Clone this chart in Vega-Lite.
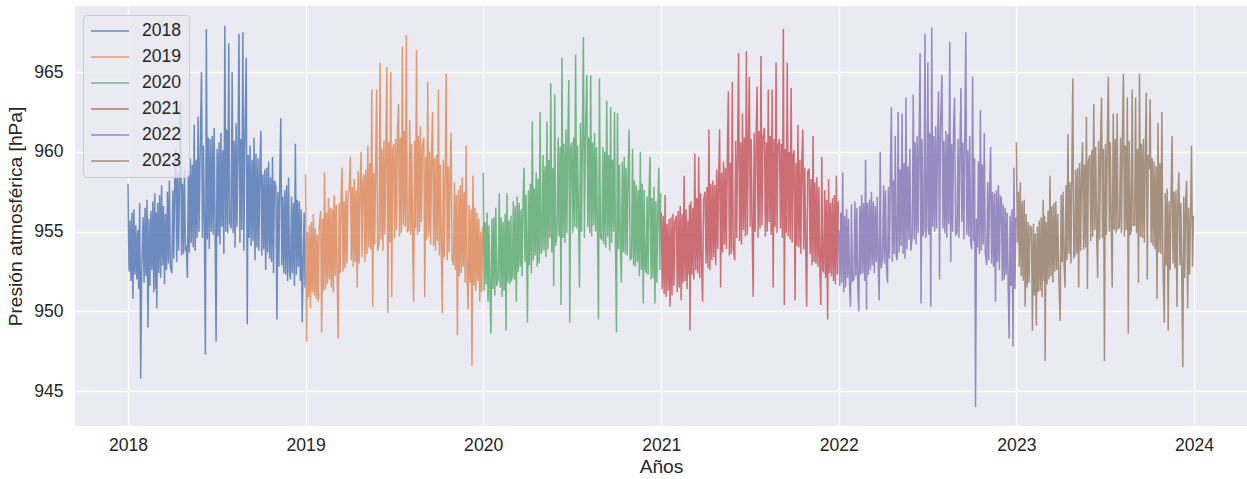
{
"$schema": "https://vega.github.io/schema/vega-lite/v6.json",
"width": 1172, "height": 420,
"autosize": {"type": "none"},
"padding": {"left": 75, "top": 6, "right": 0, "bottom": 53},
"background": "white",
"config": {
 "view": {"fill": "#EAEAF2", "stroke": null},
 "font": "Liberation Sans",
 "axis": {"domain": false, "ticks": false, "grid": true, "gridColor": "white", "gridWidth": 1.3, "labelFont": "Liberation Sans", "labelFontSize": 17.6, "labelColor": "#262626", "titleFont": "Liberation Sans", "titleFontSize": 19.2, "titleFontWeight": "normal", "titleColor": "#262626"}
},
"data": {"values": [
{"d":"2018-01-01","p":958.0},{"d":"2018-01-03","p":952.5},{"d":"2018-01-05","p":955.7},{"d":"2018-01-07","p":951.9},{"d":"2018-01-09","p":956.2},{"d":"2018-01-11","p":950.8},{"d":"2018-01-13","p":956.4},{"d":"2018-01-15","p":952.3},{"d":"2018-01-17","p":955.4},{"d":"2018-01-19","p":952.0},{"d":"2018-01-21","p":955.1},{"d":"2018-01-23","p":951.4},{"d":"2018-01-25","p":956.8},{"d":"2018-01-27","p":945.8},{"d":"2018-01-29","p":952.6},
{"d":"2018-02-01","p":955.9},{"d":"2018-02-03","p":951.8},{"d":"2018-02-05","p":956.5},{"d":"2018-02-07","p":952.2},{"d":"2018-02-09","p":957.0},{"d":"2018-02-11","p":949.0},{"d":"2018-02-13","p":955.8},{"d":"2018-02-15","p":951.6},{"d":"2018-02-17","p":956.3},{"d":"2018-02-19","p":952.6},{"d":"2018-02-21","p":956.9},{"d":"2018-02-23","p":951.2},{"d":"2018-02-25","p":957.4},{"d":"2018-02-27","p":951.4},{"d":"2018-02-28","p":956.2},
{"d":"2018-03-01","p":950.2},{"d":"2018-03-03","p":956.8},{"d":"2018-03-05","p":952.4},{"d":"2018-03-07","p":957.3},{"d":"2018-03-09","p":952.1},{"d":"2018-03-11","p":957.9},{"d":"2018-03-13","p":952.9},{"d":"2018-03-15","p":956.6},{"d":"2018-03-17","p":951.7},{"d":"2018-03-19","p":956.1},{"d":"2018-03-21","p":952.6},{"d":"2018-03-23","p":957.5},{"d":"2018-03-25","p":953.0},{"d":"2018-03-27","p":958.2},{"d":"2018-03-29","p":952.8},
{"d":"2018-04-01","p":952.4},{"d":"2018-04-03","p":957.6},{"d":"2018-04-05","p":953.3},{"d":"2018-04-07","p":958.1},{"d":"2018-04-09","p":960.2},{"d":"2018-04-11","p":953.1},{"d":"2018-04-13","p":958.7},{"d":"2018-04-15","p":953.8},{"d":"2018-04-17","p":958.4},{"d":"2018-04-19","p":963.2},{"d":"2018-04-21","p":953.5},{"d":"2018-04-23","p":958.0},{"d":"2018-04-25","p":953.6},{"d":"2018-04-27","p":958.9},{"d":"2018-04-29","p":953.9},
{"d":"2018-05-01","p":954.0},{"d":"2018-05-03","p":952.1},{"d":"2018-05-05","p":958.8},{"d":"2018-05-07","p":953.7},{"d":"2018-05-09","p":959.6},{"d":"2018-05-11","p":954.3},{"d":"2018-05-13","p":959.2},{"d":"2018-05-15","p":954.0},{"d":"2018-05-17","p":961.7},{"d":"2018-05-19","p":953.8},{"d":"2018-05-21","p":959.5},{"d":"2018-05-23","p":954.6},{"d":"2018-05-25","p":962.2},{"d":"2018-05-27","p":955.0},{"d":"2018-05-29","p":959.4},
{"d":"2018-06-01","p":965.0},{"d":"2018-06-03","p":954.6},{"d":"2018-06-05","p":960.4},{"d":"2018-06-07","p":955.2},{"d":"2018-06-09","p":947.3},{"d":"2018-06-11","p":967.7},{"d":"2018-06-13","p":954.5},{"d":"2018-06-15","p":960.9},{"d":"2018-06-17","p":953.9},{"d":"2018-06-19","p":960.8},{"d":"2018-06-21","p":955.0},{"d":"2018-06-23","p":961.0},{"d":"2018-06-25","p":954.8},{"d":"2018-06-27","p":961.5},{"d":"2018-06-29","p":954.9},
{"d":"2018-07-01","p":948.1},{"d":"2018-07-03","p":960.2},{"d":"2018-07-05","p":954.7},{"d":"2018-07-07","p":960.6},{"d":"2018-07-09","p":954.2},{"d":"2018-07-11","p":961.2},{"d":"2018-07-13","p":955.3},{"d":"2018-07-15","p":960.1},{"d":"2018-07-17","p":953.6},{"d":"2018-07-19","p":967.9},{"d":"2018-07-21","p":955.0},{"d":"2018-07-23","p":961.4},{"d":"2018-07-25","p":954.9},{"d":"2018-07-27","p":966.8},{"d":"2018-07-29","p":955.6},
{"d":"2018-08-01","p":955.2},{"d":"2018-08-03","p":965.0},{"d":"2018-08-05","p":954.9},{"d":"2018-08-07","p":960.7},{"d":"2018-08-09","p":954.0},{"d":"2018-08-11","p":961.8},{"d":"2018-08-13","p":955.3},{"d":"2018-08-15","p":960.2},{"d":"2018-08-17","p":967.4},{"d":"2018-08-19","p":954.3},{"d":"2018-08-21","p":960.8},{"d":"2018-08-23","p":955.1},{"d":"2018-08-25","p":967.5},{"d":"2018-08-27","p":953.8},{"d":"2018-08-29","p":960.5},
{"d":"2018-09-01","p":965.9},{"d":"2018-09-03","p":949.2},{"d":"2018-09-05","p":959.8},{"d":"2018-09-07","p":954.6},{"d":"2018-09-09","p":960.4},{"d":"2018-09-11","p":954.1},{"d":"2018-09-13","p":959.5},{"d":"2018-09-15","p":954.4},{"d":"2018-09-17","p":960.9},{"d":"2018-09-19","p":953.2},{"d":"2018-09-21","p":959.9},{"d":"2018-09-23","p":954.0},{"d":"2018-09-25","p":959.6},{"d":"2018-09-27","p":953.8},{"d":"2018-09-29","p":959.1},
{"d":"2018-10-01","p":961.3},{"d":"2018-10-03","p":953.5},{"d":"2018-10-05","p":958.6},{"d":"2018-10-07","p":953.9},{"d":"2018-10-09","p":958.9},{"d":"2018-10-11","p":952.6},{"d":"2018-10-13","p":959.0},{"d":"2018-10-15","p":953.7},{"d":"2018-10-17","p":959.4},{"d":"2018-10-19","p":953.3},{"d":"2018-10-21","p":958.4},{"d":"2018-10-23","p":953.1},{"d":"2018-10-25","p":959.7},{"d":"2018-10-27","p":952.4},{"d":"2018-10-29","p":958.2},
{"d":"2018-11-01","p":957.8},{"d":"2018-11-03","p":949.5},{"d":"2018-11-05","p":957.5},{"d":"2018-11-07","p":952.8},{"d":"2018-11-09","p":958.3},{"d":"2018-11-11","p":962.1},{"d":"2018-11-13","p":952.9},{"d":"2018-11-15","p":957.2},{"d":"2018-11-17","p":952.4},{"d":"2018-11-19","p":957.6},{"d":"2018-11-21","p":952.3},{"d":"2018-11-23","p":957.9},{"d":"2018-11-25","p":951.9},{"d":"2018-11-27","p":958.4},{"d":"2018-11-29","p":952.5},
{"d":"2018-12-01","p":952.0},{"d":"2018-12-03","p":957.2},{"d":"2018-12-05","p":952.4},{"d":"2018-12-07","p":956.8},{"d":"2018-12-09","p":951.6},{"d":"2018-12-11","p":960.5},{"d":"2018-12-13","p":952.3},{"d":"2018-12-15","p":957.0},{"d":"2018-12-17","p":952.8},{"d":"2018-12-19","p":956.9},{"d":"2018-12-21","p":951.9},{"d":"2018-12-23","p":956.4},{"d":"2018-12-25","p":949.3},{"d":"2018-12-27","p":953.1},{"d":"2018-12-29","p":956.2},{"d":"2018-12-31","p":951.5},
{"d":"2019-01-01","p":958.6},{"d":"2019-01-03","p":948.1},{"d":"2019-01-05","p":955.0},{"d":"2019-01-07","p":950.9},{"d":"2019-01-09","p":955.4},{"d":"2019-01-11","p":950.2},{"d":"2019-01-13","p":955.6},{"d":"2019-01-15","p":951.2},{"d":"2019-01-17","p":956.1},{"d":"2019-01-19","p":951.0},{"d":"2019-01-21","p":955.2},{"d":"2019-01-23","p":950.8},{"d":"2019-01-25","p":954.8},{"d":"2019-01-27","p":950.6},{"d":"2019-01-29","p":955.3},
{"d":"2019-02-01","p":956.3},{"d":"2019-02-03","p":948.7},{"d":"2019-02-05","p":955.8},{"d":"2019-02-07","p":951.3},{"d":"2019-02-09","p":958.7},{"d":"2019-02-11","p":951.4},{"d":"2019-02-13","p":956.2},{"d":"2019-02-15","p":951.7},{"d":"2019-02-17","p":957.1},{"d":"2019-02-19","p":952.0},{"d":"2019-02-21","p":956.5},{"d":"2019-02-23","p":951.5},{"d":"2019-02-25","p":956.4},{"d":"2019-02-27","p":951.2},{"d":"2019-02-28","p":956.0},
{"d":"2019-03-01","p":957.3},{"d":"2019-03-03","p":952.2},{"d":"2019-03-05","p":956.7},{"d":"2019-03-07","p":951.9},{"d":"2019-03-09","p":948.3},{"d":"2019-03-11","p":956.8},{"d":"2019-03-13","p":952.4},{"d":"2019-03-15","p":957.1},{"d":"2019-03-17","p":959.0},{"d":"2019-03-19","p":952.5},{"d":"2019-03-21","p":956.9},{"d":"2019-03-23","p":952.7},{"d":"2019-03-25","p":957.6},{"d":"2019-03-27","p":953.0},{"d":"2019-03-29","p":957.2},
{"d":"2019-04-01","p":957.9},{"d":"2019-04-03","p":959.7},{"d":"2019-04-05","p":953.2},{"d":"2019-04-07","p":957.8},{"d":"2019-04-09","p":952.8},{"d":"2019-04-11","p":958.3},{"d":"2019-04-13","p":953.1},{"d":"2019-04-15","p":957.6},{"d":"2019-04-17","p":951.5},{"d":"2019-04-19","p":958.8},{"d":"2019-04-21","p":953.0},{"d":"2019-04-23","p":957.9},{"d":"2019-04-25","p":960.0},{"d":"2019-04-27","p":953.4},{"d":"2019-04-29","p":958.2},
{"d":"2019-05-01","p":958.6},{"d":"2019-05-03","p":953.1},{"d":"2019-05-05","p":958.9},{"d":"2019-05-07","p":953.6},{"d":"2019-05-09","p":960.4},{"d":"2019-05-11","p":954.0},{"d":"2019-05-13","p":959.3},{"d":"2019-05-15","p":953.9},{"d":"2019-05-17","p":963.9},{"d":"2019-05-19","p":950.3},{"d":"2019-05-21","p":958.7},{"d":"2019-05-23","p":954.2},{"d":"2019-05-25","p":959.2},{"d":"2019-05-27","p":963.9},{"d":"2019-05-29","p":953.8},
{"d":"2019-06-01","p":954.2},{"d":"2019-06-03","p":965.6},{"d":"2019-06-05","p":954.5},{"d":"2019-06-07","p":960.2},{"d":"2019-06-09","p":953.8},{"d":"2019-06-11","p":960.7},{"d":"2019-06-13","p":954.8},{"d":"2019-06-15","p":960.4},{"d":"2019-06-17","p":965.3},{"d":"2019-06-19","p":949.9},{"d":"2019-06-21","p":960.6},{"d":"2019-06-23","p":954.3},{"d":"2019-06-25","p":965.0},{"d":"2019-06-27","p":950.9},{"d":"2019-06-29","p":960.1},
{"d":"2019-07-01","p":960.5},{"d":"2019-07-03","p":954.6},{"d":"2019-07-05","p":960.8},{"d":"2019-07-07","p":955.1},{"d":"2019-07-09","p":961.4},{"d":"2019-07-11","p":963.0},{"d":"2019-07-13","p":954.7},{"d":"2019-07-15","p":960.9},{"d":"2019-07-17","p":954.9},{"d":"2019-07-19","p":966.6},{"d":"2019-07-21","p":955.4},{"d":"2019-07-23","p":961.3},{"d":"2019-07-25","p":955.3},{"d":"2019-07-27","p":967.3},{"d":"2019-07-29","p":955.0},
{"d":"2019-08-01","p":955.1},{"d":"2019-08-03","p":962.0},{"d":"2019-08-05","p":954.8},{"d":"2019-08-07","p":960.5},{"d":"2019-08-09","p":954.4},{"d":"2019-08-11","p":950.6},{"d":"2019-08-13","p":960.7},{"d":"2019-08-15","p":955.2},{"d":"2019-08-17","p":966.4},{"d":"2019-08-19","p":954.8},{"d":"2019-08-21","p":961.0},{"d":"2019-08-23","p":955.0},{"d":"2019-08-25","p":961.6},{"d":"2019-08-27","p":955.6},{"d":"2019-08-29","p":960.3},
{"d":"2019-09-01","p":960.9},{"d":"2019-09-03","p":950.9},{"d":"2019-09-05","p":959.7},{"d":"2019-09-07","p":954.5},{"d":"2019-09-09","p":964.4},{"d":"2019-09-11","p":954.7},{"d":"2019-09-13","p":960.0},{"d":"2019-09-15","p":954.2},{"d":"2019-09-17","p":960.1},{"d":"2019-09-19","p":962.5},{"d":"2019-09-21","p":954.1},{"d":"2019-09-23","p":959.6},{"d":"2019-09-25","p":953.8},{"d":"2019-09-27","p":959.8},{"d":"2019-09-29","p":954.4},
{"d":"2019-10-01","p":963.9},{"d":"2019-10-03","p":953.5},{"d":"2019-10-05","p":959.2},{"d":"2019-10-07","p":953.8},{"d":"2019-10-09","p":949.9},{"d":"2019-10-11","p":959.5},{"d":"2019-10-13","p":953.4},{"d":"2019-10-15","p":958.9},{"d":"2019-10-17","p":964.9},{"d":"2019-10-19","p":953.2},{"d":"2019-10-21","p":959.1},{"d":"2019-10-23","p":953.7},{"d":"2019-10-25","p":958.6},{"d":"2019-10-27","p":961.2},{"d":"2019-10-29","p":953.3},
{"d":"2019-11-01","p":952.9},{"d":"2019-11-03","p":958.1},{"d":"2019-11-05","p":952.6},{"d":"2019-11-07","p":957.3},{"d":"2019-11-09","p":948.5},{"d":"2019-11-11","p":957.6},{"d":"2019-11-13","p":952.2},{"d":"2019-11-15","p":957.9},{"d":"2019-11-17","p":952.4},{"d":"2019-11-19","p":958.4},{"d":"2019-11-21","p":952.8},{"d":"2019-11-23","p":957.5},{"d":"2019-11-25","p":951.8},{"d":"2019-11-27","p":960.4},{"d":"2019-11-29","p":952.1},
{"d":"2019-12-01","p":950.1},{"d":"2019-12-03","p":956.7},{"d":"2019-12-05","p":951.8},{"d":"2019-12-07","p":956.4},{"d":"2019-12-09","p":946.6},{"d":"2019-12-11","p":958.5},{"d":"2019-12-13","p":951.6},{"d":"2019-12-15","p":956.5},{"d":"2019-12-17","p":951.3},{"d":"2019-12-19","p":956.2},{"d":"2019-12-21","p":951.9},{"d":"2019-12-23","p":955.8},{"d":"2019-12-25","p":950.6},{"d":"2019-12-27","p":955.0},{"d":"2019-12-29","p":951.2},{"d":"2019-12-31","p":955.3},
{"d":"2020-01-01","p":958.7},{"d":"2020-01-03","p":951.3},{"d":"2020-01-05","p":955.6},{"d":"2020-01-07","p":951.7},{"d":"2020-01-09","p":956.2},{"d":"2020-01-11","p":950.6},{"d":"2020-01-13","p":955.4},{"d":"2020-01-15","p":951.2},{"d":"2020-01-17","p":948.6},{"d":"2020-01-19","p":955.8},{"d":"2020-01-21","p":951.4},{"d":"2020-01-23","p":955.9},{"d":"2020-01-25","p":951.0},{"d":"2020-01-27","p":956.5},{"d":"2020-01-29","p":951.6},
{"d":"2020-02-01","p":952.1},{"d":"2020-02-03","p":957.4},{"d":"2020-02-05","p":951.5},{"d":"2020-02-07","p":955.9},{"d":"2020-02-09","p":950.9},{"d":"2020-02-11","p":955.6},{"d":"2020-02-13","p":951.3},{"d":"2020-02-15","p":956.1},{"d":"2020-02-17","p":948.8},{"d":"2020-02-19","p":957.4},{"d":"2020-02-21","p":951.8},{"d":"2020-02-23","p":955.7},{"d":"2020-02-25","p":951.7},{"d":"2020-02-27","p":956.0},{"d":"2020-02-28","p":951.9},
{"d":"2020-03-01","p":952.3},{"d":"2020-03-03","p":956.9},{"d":"2020-03-05","p":952.0},{"d":"2020-03-07","p":956.6},{"d":"2020-03-09","p":950.6},{"d":"2020-03-11","p":957.2},{"d":"2020-03-13","p":952.5},{"d":"2020-03-15","p":956.8},{"d":"2020-03-17","p":952.8},{"d":"2020-03-19","p":956.4},{"d":"2020-03-21","p":952.2},{"d":"2020-03-23","p":957.0},{"d":"2020-03-25","p":959.0},{"d":"2020-03-27","p":953.1},{"d":"2020-03-29","p":957.3},
{"d":"2020-04-01","p":949.3},{"d":"2020-04-03","p":957.6},{"d":"2020-04-05","p":952.9},{"d":"2020-04-07","p":958.0},{"d":"2020-04-09","p":952.4},{"d":"2020-04-11","p":961.9},{"d":"2020-04-13","p":953.2},{"d":"2020-04-15","p":957.7},{"d":"2020-04-17","p":953.5},{"d":"2020-04-19","p":958.7},{"d":"2020-04-21","p":952.8},{"d":"2020-04-23","p":958.3},{"d":"2020-04-25","p":953.0},{"d":"2020-04-27","p":962.5},{"d":"2020-04-29","p":953.6},
{"d":"2020-05-01","p":954.0},{"d":"2020-05-03","p":959.8},{"d":"2020-05-05","p":953.8},{"d":"2020-05-07","p":959.1},{"d":"2020-05-09","p":953.4},{"d":"2020-05-11","p":961.9},{"d":"2020-05-13","p":953.9},{"d":"2020-05-15","p":959.5},{"d":"2020-05-17","p":954.6},{"d":"2020-05-19","p":964.3},{"d":"2020-05-21","p":953.7},{"d":"2020-05-23","p":959.0},{"d":"2020-05-25","p":951.6},{"d":"2020-05-27","p":963.6},{"d":"2020-05-29","p":954.1},
{"d":"2020-06-01","p":955.0},{"d":"2020-06-03","p":960.9},{"d":"2020-06-05","p":954.7},{"d":"2020-06-07","p":960.3},{"d":"2020-06-09","p":950.4},{"d":"2020-06-11","p":965.9},{"d":"2020-06-13","p":954.6},{"d":"2020-06-15","p":960.5},{"d":"2020-06-17","p":954.3},{"d":"2020-06-19","p":961.4},{"d":"2020-06-21","p":954.9},{"d":"2020-06-23","p":960.8},{"d":"2020-06-25","p":964.5},{"d":"2020-06-27","p":949.3},{"d":"2020-06-29","p":960.2},
{"d":"2020-07-01","p":960.6},{"d":"2020-07-03","p":954.9},{"d":"2020-07-05","p":960.9},{"d":"2020-07-07","p":955.3},{"d":"2020-07-09","p":966.1},{"d":"2020-07-11","p":955.2},{"d":"2020-07-13","p":960.4},{"d":"2020-07-15","p":955.6},{"d":"2020-07-17","p":951.5},{"d":"2020-07-19","p":961.8},{"d":"2020-07-21","p":955.0},{"d":"2020-07-23","p":961.1},{"d":"2020-07-25","p":967.2},{"d":"2020-07-27","p":954.6},{"d":"2020-07-29","p":960.7},
{"d":"2020-08-01","p":964.8},{"d":"2020-08-03","p":955.3},{"d":"2020-08-05","p":960.9},{"d":"2020-08-07","p":954.9},{"d":"2020-08-09","p":964.8},{"d":"2020-08-11","p":954.7},{"d":"2020-08-13","p":960.6},{"d":"2020-08-15","p":955.4},{"d":"2020-08-17","p":961.2},{"d":"2020-08-19","p":955.0},{"d":"2020-08-21","p":960.3},{"d":"2020-08-23","p":954.8},{"d":"2020-08-25","p":949.5},{"d":"2020-08-27","p":964.6},{"d":"2020-08-29","p":954.6},
{"d":"2020-09-01","p":954.5},{"d":"2020-09-03","p":960.3},{"d":"2020-09-05","p":954.2},{"d":"2020-09-07","p":960.0},{"d":"2020-09-09","p":954.0},{"d":"2020-09-11","p":963.2},{"d":"2020-09-13","p":954.7},{"d":"2020-09-15","p":959.8},{"d":"2020-09-17","p":953.8},{"d":"2020-09-19","p":962.8},{"d":"2020-09-21","p":954.3},{"d":"2020-09-23","p":959.5},{"d":"2020-09-25","p":955.0},{"d":"2020-09-27","p":962.5},{"d":"2020-09-29","p":954.1},
{"d":"2020-10-01","p":948.7},{"d":"2020-10-03","p":962.4},{"d":"2020-10-05","p":953.9},{"d":"2020-10-07","p":959.2},{"d":"2020-10-09","p":954.2},{"d":"2020-10-11","p":951.8},{"d":"2020-10-13","p":959.4},{"d":"2020-10-15","p":953.7},{"d":"2020-10-17","p":959.7},{"d":"2020-10-19","p":953.6},{"d":"2020-10-21","p":959.0},{"d":"2020-10-23","p":953.5},{"d":"2020-10-25","p":958.9},{"d":"2020-10-27","p":961.4},{"d":"2020-10-29","p":953.2},
{"d":"2020-11-01","p":953.4},{"d":"2020-11-03","p":960.2},{"d":"2020-11-05","p":952.9},{"d":"2020-11-07","p":958.2},{"d":"2020-11-09","p":952.8},{"d":"2020-11-11","p":957.9},{"d":"2020-11-13","p":953.1},{"d":"2020-11-15","p":957.6},{"d":"2020-11-17","p":952.2},{"d":"2020-11-19","p":960.0},{"d":"2020-11-21","p":952.6},{"d":"2020-11-23","p":958.0},{"d":"2020-11-25","p":950.5},{"d":"2020-11-27","p":957.6},{"d":"2020-11-29","p":952.7},
{"d":"2020-12-01","p":952.4},{"d":"2020-12-03","p":957.2},{"d":"2020-12-05","p":952.3},{"d":"2020-12-07","p":957.5},{"d":"2020-12-09","p":959.7},{"d":"2020-12-11","p":952.0},{"d":"2020-12-13","p":957.1},{"d":"2020-12-15","p":952.1},{"d":"2020-12-17","p":957.8},{"d":"2020-12-19","p":950.5},{"d":"2020-12-21","p":956.9},{"d":"2020-12-23","p":951.8},{"d":"2020-12-25","p":956.3},{"d":"2020-12-27","p":959.0},{"d":"2020-12-29","p":952.6},{"d":"2020-12-31","p":957.4},
{"d":"2021-01-01","p":956.2},{"d":"2021-01-03","p":951.4},{"d":"2021-01-05","p":956.0},{"d":"2021-01-07","p":951.1},{"d":"2021-01-09","p":957.3},{"d":"2021-01-11","p":950.9},{"d":"2021-01-13","p":955.5},{"d":"2021-01-15","p":951.3},{"d":"2021-01-17","p":955.8},{"d":"2021-01-19","p":950.3},{"d":"2021-01-21","p":955.9},{"d":"2021-01-23","p":951.0},{"d":"2021-01-25","p":956.1},{"d":"2021-01-27","p":951.6},{"d":"2021-01-29","p":955.6},
{"d":"2021-02-01","p":956.0},{"d":"2021-02-03","p":951.2},{"d":"2021-02-05","p":956.3},{"d":"2021-02-07","p":951.5},{"d":"2021-02-09","p":956.6},{"d":"2021-02-11","p":950.7},{"d":"2021-02-13","p":956.1},{"d":"2021-02-15","p":951.8},{"d":"2021-02-17","p":958.5},{"d":"2021-02-19","p":951.9},{"d":"2021-02-21","p":956.4},{"d":"2021-02-23","p":951.4},{"d":"2021-02-25","p":955.7},{"d":"2021-02-27","p":952.3},{"d":"2021-02-28","p":956.7},
{"d":"2021-03-01","p":948.8},{"d":"2021-03-03","p":956.9},{"d":"2021-03-05","p":952.3},{"d":"2021-03-07","p":956.5},{"d":"2021-03-09","p":952.0},{"d":"2021-03-11","p":959.9},{"d":"2021-03-13","p":952.6},{"d":"2021-03-15","p":957.1},{"d":"2021-03-17","p":952.4},{"d":"2021-03-19","p":959.7},{"d":"2021-03-21","p":952.1},{"d":"2021-03-23","p":957.4},{"d":"2021-03-25","p":953.0},{"d":"2021-03-27","p":950.6},{"d":"2021-03-29","p":957.0},
{"d":"2021-04-01","p":957.5},{"d":"2021-04-03","p":953.0},{"d":"2021-04-05","p":957.8},{"d":"2021-04-07","p":952.7},{"d":"2021-04-09","p":961.4},{"d":"2021-04-11","p":952.6},{"d":"2021-04-13","p":958.0},{"d":"2021-04-15","p":953.2},{"d":"2021-04-17","p":958.2},{"d":"2021-04-19","p":953.4},{"d":"2021-04-21","p":957.9},{"d":"2021-04-23","p":952.9},{"d":"2021-04-25","p":958.9},{"d":"2021-04-27","p":953.9},{"d":"2021-04-29","p":958.3},
{"d":"2021-05-01","p":961.4},{"d":"2021-05-03","p":951.5},{"d":"2021-05-05","p":958.7},{"d":"2021-05-07","p":953.7},{"d":"2021-05-09","p":959.4},{"d":"2021-05-11","p":954.2},{"d":"2021-05-13","p":959.0},{"d":"2021-05-15","p":953.9},{"d":"2021-05-17","p":960.1},{"d":"2021-05-19","p":963.8},{"d":"2021-05-21","p":953.5},{"d":"2021-05-23","p":959.3},{"d":"2021-05-25","p":953.6},{"d":"2021-05-27","p":964.4},{"d":"2021-05-29","p":954.0},
{"d":"2021-06-01","p":953.2},{"d":"2021-06-03","p":960.7},{"d":"2021-06-05","p":954.6},{"d":"2021-06-07","p":960.3},{"d":"2021-06-09","p":966.2},{"d":"2021-06-11","p":954.4},{"d":"2021-06-13","p":960.6},{"d":"2021-06-15","p":954.2},{"d":"2021-06-17","p":962.4},{"d":"2021-06-19","p":955.1},{"d":"2021-06-21","p":960.9},{"d":"2021-06-23","p":954.7},{"d":"2021-06-25","p":966.3},{"d":"2021-06-27","p":954.8},{"d":"2021-06-29","p":960.5},
{"d":"2021-07-01","p":964.7},{"d":"2021-07-03","p":955.3},{"d":"2021-07-05","p":960.8},{"d":"2021-07-07","p":954.9},{"d":"2021-07-09","p":950.9},{"d":"2021-07-11","p":961.2},{"d":"2021-07-13","p":955.0},{"d":"2021-07-15","p":960.7},{"d":"2021-07-17","p":964.1},{"d":"2021-07-19","p":954.6},{"d":"2021-07-21","p":961.3},{"d":"2021-07-23","p":955.2},{"d":"2021-07-25","p":966.0},{"d":"2021-07-27","p":955.4},{"d":"2021-07-29","p":960.9},
{"d":"2021-08-01","p":961.5},{"d":"2021-08-03","p":954.7},{"d":"2021-08-05","p":960.6},{"d":"2021-08-07","p":955.0},{"d":"2021-08-09","p":963.9},{"d":"2021-08-11","p":955.6},{"d":"2021-08-13","p":961.0},{"d":"2021-08-15","p":954.8},{"d":"2021-08-17","p":963.9},{"d":"2021-08-19","p":951.5},{"d":"2021-08-21","p":960.8},{"d":"2021-08-23","p":955.3},{"d":"2021-08-25","p":965.6},{"d":"2021-08-27","p":954.9},{"d":"2021-08-29","p":960.4},
{"d":"2021-09-01","p":960.8},{"d":"2021-09-03","p":955.2},{"d":"2021-09-05","p":960.5},{"d":"2021-09-07","p":954.6},{"d":"2021-09-09","p":967.7},{"d":"2021-09-11","p":950.4},{"d":"2021-09-13","p":960.2},{"d":"2021-09-15","p":954.9},{"d":"2021-09-17","p":965.6},{"d":"2021-09-19","p":954.7},{"d":"2021-09-21","p":960.0},{"d":"2021-09-23","p":954.5},{"d":"2021-09-25","p":964.0},{"d":"2021-09-27","p":954.3},{"d":"2021-09-29","p":959.8},
{"d":"2021-10-01","p":960.1},{"d":"2021-10-03","p":950.7},{"d":"2021-10-05","p":959.3},{"d":"2021-10-07","p":954.1},{"d":"2021-10-09","p":961.7},{"d":"2021-10-11","p":954.0},{"d":"2021-10-13","p":959.5},{"d":"2021-10-15","p":953.6},{"d":"2021-10-17","p":959.6},{"d":"2021-10-19","p":961.4},{"d":"2021-10-21","p":953.9},{"d":"2021-10-23","p":959.0},{"d":"2021-10-25","p":953.8},{"d":"2021-10-27","p":950.3},{"d":"2021-10-29","p":958.8},
{"d":"2021-11-01","p":958.9},{"d":"2021-11-03","p":953.6},{"d":"2021-11-05","p":958.3},{"d":"2021-11-07","p":952.9},{"d":"2021-11-09","p":961.0},{"d":"2021-11-11","p":953.1},{"d":"2021-11-13","p":958.1},{"d":"2021-11-15","p":953.0},{"d":"2021-11-17","p":958.4},{"d":"2021-11-19","p":952.8},{"d":"2021-11-21","p":957.8},{"d":"2021-11-23","p":952.7},{"d":"2021-11-25","p":950.4},{"d":"2021-11-27","p":959.7},{"d":"2021-11-29","p":952.6},
{"d":"2021-12-01","p":952.5},{"d":"2021-12-03","p":957.6},{"d":"2021-12-05","p":952.1},{"d":"2021-12-07","p":957.0},{"d":"2021-12-09","p":949.5},{"d":"2021-12-11","p":958.3},{"d":"2021-12-13","p":952.4},{"d":"2021-12-15","p":956.8},{"d":"2021-12-17","p":952.2},{"d":"2021-12-19","p":957.1},{"d":"2021-12-21","p":951.9},{"d":"2021-12-23","p":957.3},{"d":"2021-12-25","p":951.7},{"d":"2021-12-27","p":958.5},{"d":"2021-12-29","p":952.3},{"d":"2021-12-31","p":956.9},
{"d":"2022-01-01","p":955.1},{"d":"2022-01-03","p":951.6},{"d":"2022-01-05","p":956.2},{"d":"2022-01-07","p":951.8},{"d":"2022-01-09","p":958.7},{"d":"2022-01-11","p":951.2},{"d":"2022-01-13","p":956.0},{"d":"2022-01-15","p":951.5},{"d":"2022-01-17","p":956.4},{"d":"2022-01-19","p":952.1},{"d":"2022-01-21","p":955.8},{"d":"2022-01-23","p":951.7},{"d":"2022-01-25","p":950.3},{"d":"2022-01-27","p":956.7},{"d":"2022-01-29","p":951.9},
{"d":"2022-02-01","p":952.0},{"d":"2022-02-03","p":956.9},{"d":"2022-02-05","p":952.2},{"d":"2022-02-07","p":956.5},{"d":"2022-02-09","p":951.5},{"d":"2022-02-11","p":950.0},{"d":"2022-02-13","p":956.6},{"d":"2022-02-15","p":952.3},{"d":"2022-02-17","p":957.3},{"d":"2022-02-19","p":952.4},{"d":"2022-02-21","p":956.8},{"d":"2022-02-23","p":951.9},{"d":"2022-02-25","p":959.5},{"d":"2022-02-27","p":950.1},{"d":"2022-02-28","p":956.4},
{"d":"2022-03-01","p":956.8},{"d":"2022-03-03","p":952.3},{"d":"2022-03-05","p":957.0},{"d":"2022-03-07","p":952.6},{"d":"2022-03-09","p":957.5},{"d":"2022-03-11","p":952.9},{"d":"2022-03-13","p":956.9},{"d":"2022-03-15","p":952.4},{"d":"2022-03-17","p":956.6},{"d":"2022-03-19","p":953.1},{"d":"2022-03-21","p":957.2},{"d":"2022-03-23","p":952.8},{"d":"2022-03-25","p":950.7},{"d":"2022-03-27","p":960.0},{"d":"2022-03-29","p":952.7},
{"d":"2022-04-01","p":953.4},{"d":"2022-04-03","p":957.9},{"d":"2022-04-05","p":953.0},{"d":"2022-04-07","p":957.6},{"d":"2022-04-09","p":952.7},{"d":"2022-04-11","p":951.8},{"d":"2022-04-13","p":957.8},{"d":"2022-04-15","p":953.3},{"d":"2022-04-17","p":958.6},{"d":"2022-04-19","p":962.8},{"d":"2022-04-21","p":953.1},{"d":"2022-04-23","p":958.2},{"d":"2022-04-25","p":953.6},{"d":"2022-04-27","p":961.0},{"d":"2022-04-29","p":953.5},
{"d":"2022-05-01","p":953.2},{"d":"2022-05-03","p":962.5},{"d":"2022-05-05","p":953.7},{"d":"2022-05-07","p":958.9},{"d":"2022-05-09","p":954.1},{"d":"2022-05-11","p":962.4},{"d":"2022-05-13","p":953.6},{"d":"2022-05-15","p":959.3},{"d":"2022-05-17","p":953.3},{"d":"2022-05-19","p":963.4},{"d":"2022-05-21","p":953.9},{"d":"2022-05-23","p":959.1},{"d":"2022-05-25","p":954.5},{"d":"2022-05-27","p":960.2},{"d":"2022-05-29","p":953.8},
{"d":"2022-06-01","p":954.8},{"d":"2022-06-03","p":963.6},{"d":"2022-06-05","p":954.5},{"d":"2022-06-07","p":960.6},{"d":"2022-06-09","p":954.2},{"d":"2022-06-11","p":961.0},{"d":"2022-06-13","p":954.9},{"d":"2022-06-15","p":960.4},{"d":"2022-06-17","p":966.2},{"d":"2022-06-19","p":950.5},{"d":"2022-06-21","p":960.8},{"d":"2022-06-23","p":954.7},{"d":"2022-06-25","p":955.1},{"d":"2022-06-27","p":967.4},{"d":"2022-06-29","p":954.6},
{"d":"2022-07-01","p":955.4},{"d":"2022-07-03","p":965.6},{"d":"2022-07-05","p":954.8},{"d":"2022-07-07","p":961.2},{"d":"2022-07-09","p":950.3},{"d":"2022-07-11","p":967.8},{"d":"2022-07-13","p":955.3},{"d":"2022-07-15","p":961.0},{"d":"2022-07-17","p":955.0},{"d":"2022-07-19","p":961.6},{"d":"2022-07-21","p":955.2},{"d":"2022-07-23","p":960.9},{"d":"2022-07-25","p":963.8},{"d":"2022-07-27","p":952.0},{"d":"2022-07-29","p":961.4},
{"d":"2022-08-01","p":964.8},{"d":"2022-08-03","p":955.2},{"d":"2022-08-05","p":960.7},{"d":"2022-08-07","p":954.9},{"d":"2022-08-09","p":961.3},{"d":"2022-08-11","p":954.6},{"d":"2022-08-13","p":961.1},{"d":"2022-08-15","p":955.5},{"d":"2022-08-17","p":966.9},{"d":"2022-08-19","p":953.1},{"d":"2022-08-21","p":960.5},{"d":"2022-08-23","p":955.0},{"d":"2022-08-25","p":961.7},{"d":"2022-08-27","p":963.4},{"d":"2022-08-29","p":954.8},
{"d":"2022-09-01","p":954.9},{"d":"2022-09-03","p":960.8},{"d":"2022-09-05","p":954.6},{"d":"2022-09-07","p":960.3},{"d":"2022-09-09","p":964.0},{"d":"2022-09-11","p":955.6},{"d":"2022-09-13","p":960.6},{"d":"2022-09-15","p":954.5},{"d":"2022-09-17","p":961.2},{"d":"2022-09-19","p":967.5},{"d":"2022-09-21","p":954.8},{"d":"2022-09-23","p":960.1},{"d":"2022-09-25","p":954.7},{"d":"2022-09-27","p":961.0},{"d":"2022-09-29","p":954.3},
{"d":"2022-10-01","p":953.9},{"d":"2022-10-03","p":964.7},{"d":"2022-10-05","p":954.4},{"d":"2022-10-07","p":959.6},{"d":"2022-10-09","p":944.0},{"d":"2022-10-11","p":955.8},{"d":"2022-10-13","p":954.0},{"d":"2022-10-15","p":959.4},{"d":"2022-10-17","p":953.6},{"d":"2022-10-19","p":962.6},{"d":"2022-10-21","p":953.8},{"d":"2022-10-23","p":959.2},{"d":"2022-10-25","p":954.2},{"d":"2022-10-27","p":961.2},{"d":"2022-10-29","p":953.7},
{"d":"2022-11-01","p":952.9},{"d":"2022-11-03","p":958.1},{"d":"2022-11-05","p":953.2},{"d":"2022-11-07","p":957.8},{"d":"2022-11-09","p":960.3},{"d":"2022-11-11","p":953.0},{"d":"2022-11-13","p":957.5},{"d":"2022-11-15","p":952.8},{"d":"2022-11-17","p":957.4},{"d":"2022-11-19","p":950.6},{"d":"2022-11-21","p":957.6},{"d":"2022-11-23","p":953.1},{"d":"2022-11-25","p":957.9},{"d":"2022-11-27","p":952.6},{"d":"2022-11-29","p":957.2},
{"d":"2022-12-01","p":957.1},{"d":"2022-12-03","p":951.9},{"d":"2022-12-05","p":956.7},{"d":"2022-12-07","p":952.0},{"d":"2022-12-09","p":956.5},{"d":"2022-12-11","p":952.3},{"d":"2022-12-13","p":956.2},{"d":"2022-12-15","p":951.8},{"d":"2022-12-17","p":948.3},{"d":"2022-12-19","p":956.0},{"d":"2022-12-21","p":951.6},{"d":"2022-12-23","p":956.4},{"d":"2022-12-25","p":947.8},{"d":"2022-12-27","p":959.0},{"d":"2022-12-29","p":951.4},{"d":"2022-12-31","p":955.9},
{"d":"2023-01-01","p":960.6},{"d":"2023-01-03","p":954.3},{"d":"2023-01-05","p":957.5},{"d":"2023-01-07","p":952.8},{"d":"2023-01-09","p":958.1},{"d":"2023-01-11","p":952.2},{"d":"2023-01-13","p":956.9},{"d":"2023-01-15","p":951.9},{"d":"2023-01-17","p":957.0},{"d":"2023-01-19","p":950.3},{"d":"2023-01-21","p":956.1},{"d":"2023-01-23","p":951.5},{"d":"2023-01-25","p":955.6},{"d":"2023-01-27","p":951.8},{"d":"2023-01-29","p":955.4},
{"d":"2023-02-01","p":955.2},{"d":"2023-02-03","p":948.8},{"d":"2023-02-05","p":955.5},{"d":"2023-02-07","p":951.0},{"d":"2023-02-09","p":954.9},{"d":"2023-02-11","p":949.1},{"d":"2023-02-13","p":955.3},{"d":"2023-02-15","p":951.2},{"d":"2023-02-17","p":955.7},{"d":"2023-02-19","p":951.3},{"d":"2023-02-21","p":955.9},{"d":"2023-02-23","p":950.9},{"d":"2023-02-25","p":957.0},{"d":"2023-02-27","p":951.9},{"d":"2023-02-28","p":956.0},
{"d":"2023-03-01","p":946.9},{"d":"2023-03-03","p":955.6},{"d":"2023-03-05","p":951.7},{"d":"2023-03-07","p":956.3},{"d":"2023-03-09","p":952.0},{"d":"2023-03-11","p":958.5},{"d":"2023-03-13","p":952.2},{"d":"2023-03-15","p":956.6},{"d":"2023-03-17","p":951.8},{"d":"2023-03-19","p":956.8},{"d":"2023-03-21","p":952.5},{"d":"2023-03-23","p":956.9},{"d":"2023-03-25","p":952.6},{"d":"2023-03-27","p":956.1},{"d":"2023-03-29","p":952.3},
{"d":"2023-04-01","p":949.4},{"d":"2023-04-03","p":957.3},{"d":"2023-04-05","p":953.1},{"d":"2023-04-07","p":957.5},{"d":"2023-04-09","p":952.9},{"d":"2023-04-11","p":951.5},{"d":"2023-04-13","p":957.9},{"d":"2023-04-15","p":953.2},{"d":"2023-04-17","p":961.1},{"d":"2023-04-19","p":953.6},{"d":"2023-04-21","p":958.1},{"d":"2023-04-23","p":953.0},{"d":"2023-04-25","p":958.4},{"d":"2023-04-27","p":964.6},{"d":"2023-04-29","p":953.4},
{"d":"2023-05-01","p":953.5},{"d":"2023-05-03","p":958.9},{"d":"2023-05-05","p":953.6},{"d":"2023-05-07","p":959.0},{"d":"2023-05-09","p":951.5},{"d":"2023-05-11","p":959.3},{"d":"2023-05-13","p":953.8},{"d":"2023-05-15","p":958.8},{"d":"2023-05-17","p":960.6},{"d":"2023-05-19","p":953.9},{"d":"2023-05-21","p":959.2},{"d":"2023-05-23","p":954.0},{"d":"2023-05-25","p":962.2},{"d":"2023-05-27","p":951.4},{"d":"2023-05-29","p":959.4},
{"d":"2023-06-01","p":959.8},{"d":"2023-06-03","p":954.4},{"d":"2023-06-05","p":960.1},{"d":"2023-06-07","p":954.7},{"d":"2023-06-09","p":963.0},{"d":"2023-06-11","p":955.1},{"d":"2023-06-13","p":960.3},{"d":"2023-06-15","p":954.8},{"d":"2023-06-17","p":952.1},{"d":"2023-06-19","p":960.7},{"d":"2023-06-21","p":954.5},{"d":"2023-06-23","p":960.5},{"d":"2023-06-25","p":963.4},{"d":"2023-06-27","p":954.6},{"d":"2023-06-29","p":960.2},
{"d":"2023-07-01","p":946.9},{"d":"2023-07-03","p":960.5},{"d":"2023-07-05","p":954.8},{"d":"2023-07-07","p":960.9},{"d":"2023-07-09","p":964.7},{"d":"2023-07-11","p":955.0},{"d":"2023-07-13","p":960.6},{"d":"2023-07-15","p":955.3},{"d":"2023-07-17","p":951.5},{"d":"2023-07-19","p":962.4},{"d":"2023-07-21","p":955.1},{"d":"2023-07-23","p":960.8},{"d":"2023-07-25","p":954.9},{"d":"2023-07-27","p":962.4},{"d":"2023-07-29","p":955.2},
{"d":"2023-08-01","p":955.3},{"d":"2023-08-03","p":960.9},{"d":"2023-08-05","p":954.9},{"d":"2023-08-07","p":961.2},{"d":"2023-08-09","p":964.9},{"d":"2023-08-11","p":954.7},{"d":"2023-08-13","p":960.4},{"d":"2023-08-15","p":955.1},{"d":"2023-08-17","p":963.4},{"d":"2023-08-19","p":948.6},{"d":"2023-08-21","p":960.7},{"d":"2023-08-23","p":954.8},{"d":"2023-08-25","p":955.0},{"d":"2023-08-27","p":963.9},{"d":"2023-08-29","p":955.4},
{"d":"2023-09-01","p":955.4},{"d":"2023-09-03","p":963.4},{"d":"2023-09-05","p":954.9},{"d":"2023-09-07","p":960.2},{"d":"2023-09-09","p":951.8},{"d":"2023-09-11","p":964.9},{"d":"2023-09-13","p":954.7},{"d":"2023-09-15","p":960.5},{"d":"2023-09-17","p":954.6},{"d":"2023-09-19","p":960.8},{"d":"2023-09-21","p":954.3},{"d":"2023-09-23","p":960.0},{"d":"2023-09-25","p":963.7},{"d":"2023-09-27","p":952.0},{"d":"2023-09-29","p":959.8},
{"d":"2023-10-01","p":958.9},{"d":"2023-10-03","p":963.3},{"d":"2023-10-05","p":954.3},{"d":"2023-10-07","p":959.6},{"d":"2023-10-09","p":954.1},{"d":"2023-10-11","p":959.4},{"d":"2023-10-13","p":953.9},{"d":"2023-10-15","p":959.1},{"d":"2023-10-17","p":950.8},{"d":"2023-10-19","p":961.8},{"d":"2023-10-21","p":953.7},{"d":"2023-10-23","p":959.3},{"d":"2023-10-25","p":953.6},{"d":"2023-10-27","p":962.5},{"d":"2023-10-29","p":953.5},
{"d":"2023-11-01","p":949.3},{"d":"2023-11-03","p":957.4},{"d":"2023-11-05","p":952.9},{"d":"2023-11-07","p":957.7},{"d":"2023-11-09","p":948.8},{"d":"2023-11-11","p":956.9},{"d":"2023-11-13","p":952.6},{"d":"2023-11-15","p":957.3},{"d":"2023-11-17","p":961.0},{"d":"2023-11-19","p":953.0},{"d":"2023-11-21","p":957.5},{"d":"2023-11-23","p":952.7},{"d":"2023-11-25","p":957.6},{"d":"2023-11-27","p":950.3},{"d":"2023-11-29","p":957.1},
{"d":"2023-12-01","p":958.7},{"d":"2023-12-03","p":952.9},{"d":"2023-12-05","p":956.8},{"d":"2023-12-07","p":952.4},{"d":"2023-12-09","p":946.5},{"d":"2023-12-11","p":957.2},{"d":"2023-12-13","p":952.1},{"d":"2023-12-15","p":956.9},{"d":"2023-12-17","p":958.2},{"d":"2023-12-19","p":950.2},{"d":"2023-12-21","p":956.5},{"d":"2023-12-23","p":952.3},{"d":"2023-12-25","p":956.1},{"d":"2023-12-27","p":960.4},{"d":"2023-12-29","p":952.8},{"d":"2023-12-31","p":956.0}
]},
"mark": {"type": "line", "strokeWidth": 1.5, "opacity": 0.8},
"encoding": {
 "x": {"field": "d", "type": "temporal",
  "scale": {"domain": [{"year": 2017, "month": 9, "date": 14}, {"year": 2024, "month": 4, "date": 19}]},
  "axis": {"title": "Años", "format": "%Y", "labelPadding": 10, "titlePadding": 4, "labelFlush": false,
   "values": [{"year": 2018, "month": 1, "date": 1}, {"year": 2019, "month": 1, "date": 1}, {"year": 2020, "month": 1, "date": 1}, {"year": 2021, "month": 1, "date": 1}, {"year": 2022, "month": 1, "date": 1}, {"year": 2023, "month": 1, "date": 1}, {"year": 2024, "month": 1, "date": 1}]}},
 "y": {"field": "p", "type": "quantitative",
  "scale": {"domain": [942.82, 969.14], "nice": false, "zero": false},
  "axis": {"title": "Presión atmosférica [hPa]", "values": [945, 950, 955, 960, 965], "labelPadding": 12, "titlePadding": 8}},
 "color": {"field": "d", "timeUnit": "year", "type": "ordinal",
  "scale": {"range": ["#4C72B0", "#DD8452", "#55A868", "#C44E52", "#8172B3", "#937860"]},
  "legend": {"title": null, "orient": "none", "legendX": 8, "legendY": 9, "symbolType": "stroke", "symbolSize": 1444, "symbolStrokeWidth": 1.5, "symbolOpacity": 0.8, "labelFont": "Liberation Sans", "labelFontSize": 17.6, "labelColor": "#262626", "labelOffset": 12, "rowPadding": 8, "clipHeight": 18, "padding": 7, "fillColor": "rgba(234,234,242,0.8)", "strokeColor": "#cccccc", "cornerRadius": 4}}
}
}
